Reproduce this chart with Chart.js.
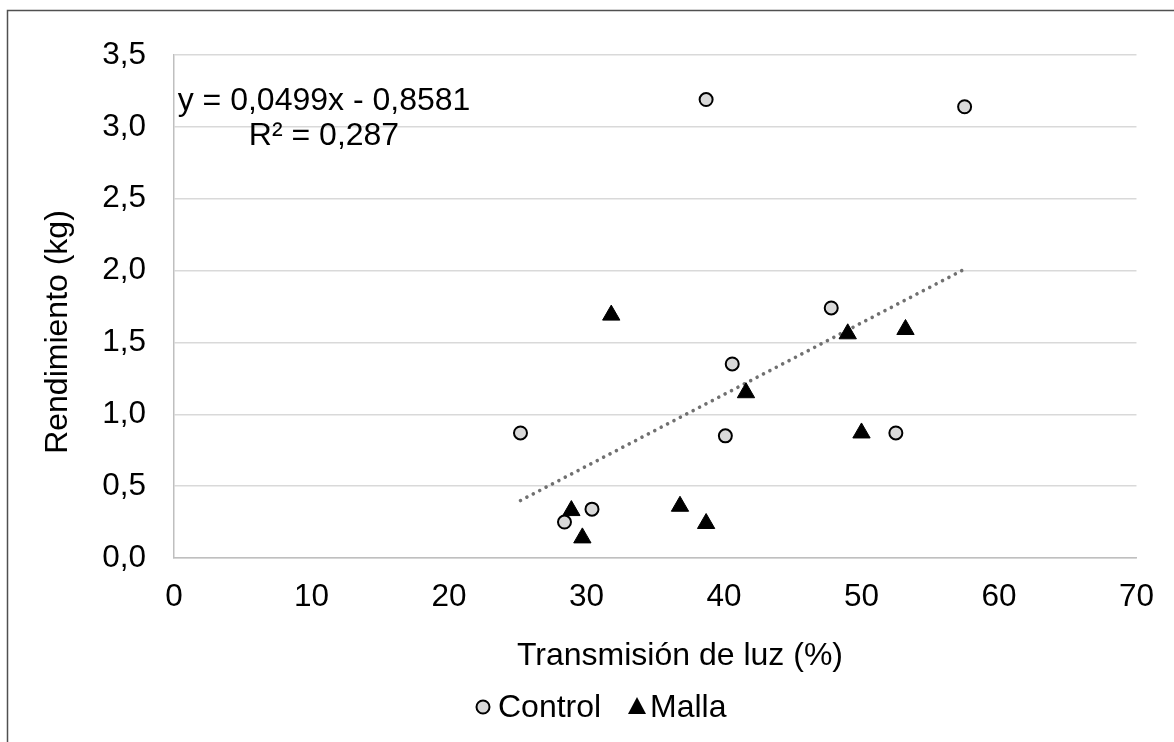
<!DOCTYPE html>
<html>
<head>
<meta charset="utf-8">
<script src="https://cdn.jsdelivr.net/npm/chart.js@4.4.1/dist/chart.umd.min.js"></script>
<style>
  html, body { margin: 0; padding: 0; background: #ffffff; }
  #wrap { width: 1174px; height: 742px; position: relative; }
</style>
</head>
<body>
<div id="wrap"><canvas id="c" width="1174" height="742"></canvas></div>
<script>
// ---- Data ----
const controlX = [25.2, 28.4, 30.4, 38.7, 40.6, 40.1, 47.8, 52.5, 57.5];
const controlY = [0.87, 0.25, 0.34, 3.19, 1.35, 0.85, 1.74, 0.87, 3.14];
const mallaX   = [28.9, 29.7, 31.8, 36.8, 38.7, 41.6, 49.0, 50.0, 53.2];
const mallaY   = [0.33, 0.14, 1.69, 0.36, 0.24, 1.15, 1.56, 0.87, 1.59];
const trendX   = [25.2, 57.5];
const trendY   = [0.40, 2.01];
const seriesNames = ['Control', 'Malla'];
const xTitle = 'Transmisión de luz (%)';
const yTitle = 'Rendimiento (kg)';
const eqLines = ['y = 0,0499x - 0,8581', 'R² = 0,287'];
const xTicks = { min: 0, max: 70, step: 10 };
const yTicks = { min: 0, max: 3.5, step: 0.5 };

const FONT = '"Liberation Sans", Arial, sans-serif';
const toPts = (xs, ys) => xs.map((x, i) => ({ x: x, y: ys[i] }));

const overlay = {
  id: 'overlay',
  beforeDraw(chart) {
    const ctx = chart.ctx;
    ctx.save();
    ctx.fillStyle = '#ffffff';
    ctx.fillRect(0, 0, chart.width, chart.height);
    ctx.restore();
  },
  afterDraw(chart) {
    const ctx = chart.ctx;
    ctx.save();
    // outer frame
    ctx.strokeStyle = '#505050';
    ctx.lineWidth = 1.5;
    ctx.strokeRect(7.5, 10.5, 1400, 1000);

    ctx.fillStyle = '#000000';
    ctx.font = '32px ' + FONT;
    ctx.textBaseline = 'middle';
    ctx.textAlign = 'center';
    // x title
    ctx.fillText(xTitle, 680, 656);
    // y title
    ctx.save();
    ctx.translate(58, 332);
    ctx.rotate(-Math.PI / 2);
    ctx.fillText(yTitle, 0, 0);
    ctx.restore();
    // equation
    ctx.fillText(eqLines[0], 324, 101);
    ctx.fillText(eqLines[1], 324, 136);

    // legend
    const ly = 707;
    ctx.textAlign = 'left';
    ctx.beginPath();
    ctx.arc(483, ly, 6.5, 0, Math.PI * 2);
    ctx.fillStyle = '#d9d9d9';
    ctx.fill();
    ctx.lineWidth = 2;
    ctx.strokeStyle = '#000';
    ctx.stroke();
    ctx.fillStyle = '#000';
    ctx.fillText(seriesNames[0], 498, ly + 1);
    ctx.beginPath();
    ctx.moveTo(637, ly - 10);
    ctx.lineTo(646, ly + 7);
    ctx.lineTo(628, ly + 7);
    ctx.closePath();
    ctx.fill();
    ctx.fillText(seriesNames[1], 650, ly + 1);
    ctx.restore();
  }
};

new Chart(document.getElementById('c'), {
  type: 'scatter',
  data: {
    datasets: [
      {
        label: 'Lineal',
        type: 'line',
        data: toPts(trendX, trendY),
        borderColor: '#707070',
        borderWidth: 3.6,
        borderDash: [0.01, 7.2],
        borderCapStyle: 'round',
        pointRadius: 0,
        fill: false,
        order: 3
      },
      {
        label: seriesNames[0],
        data: toPts(controlX, controlY),
        pointStyle: 'circle',
        pointRadius: 6.5,
        pointHoverRadius: 6.5,
        backgroundColor: '#d9d9d9',
        borderColor: '#000000',
        borderWidth: 2,
        order: 2
      },
      {
        label: seriesNames[1],
        data: toPts(mallaX, mallaY),
        pointStyle: 'triangle',
        pointRadius: 10,
        pointHoverRadius: 10,
        backgroundColor: '#000000',
        borderColor: '#000000',
        borderWidth: 1,
        order: 1
      }
    ]
  },
  options: {
    responsive: false,
    animation: false,
    events: [],
    layout: { padding: { left: 0, right: 37, top: 55, bottom: 0 } },
    plugins: {
      legend: { display: false },
      tooltip: { enabled: false }
    },
    scales: {
      x: {
        type: 'linear',
        min: xTicks.min, max: xTicks.max,
        ticks: {
          stepSize: xTicks.step,
          padding: 20,
          color: '#000',
          font: { family: FONT, size: 31.5 },
          maxRotation: 0,
          callback: v => String(v)
        },
        grid: { display: false, drawTicks: false },
        border: { display: true, color: '#bfbfbf', width: 1.5 },
        afterFit(s) { s.height = 742 - 558; }
      },
      y: {
        type: 'linear',
        min: yTicks.min, max: yTicks.max,
        ticks: {
          stepSize: yTicks.step,
          padding: 28,
          color: '#000',
          font: { family: FONT, size: 31.5 },
          callback: v => v.toFixed(1).replace('.', ',')
        },
        grid: { color: '#d9d9d9', lineWidth: 1.5, drawTicks: false },
        border: { display: true, color: '#bfbfbf', width: 1.5 },
        afterFit(s) { s.width = 174; }
      }
    }
  },
  plugins: [overlay]
});
</script>
</body>
</html>
